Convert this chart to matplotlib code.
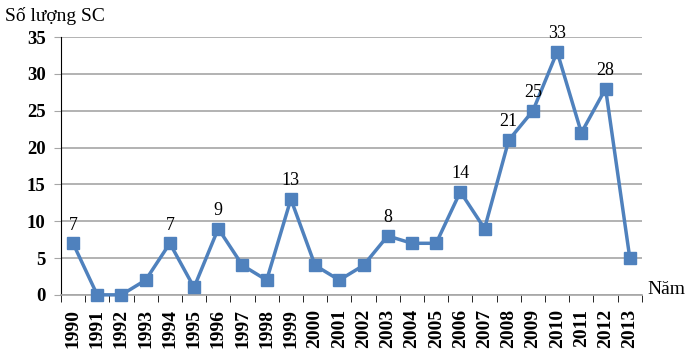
import matplotlib
matplotlib.use("Agg")
import matplotlib.pyplot as plt
import numpy as np

years = ["1990", "1991", "1992", "1993", "1994", "1995", "1996", "1997", "1998", "1999",
         "2000", "2001", "2002", "2003", "2004", "2005", "2006", "2007", "2008", "2009",
         "2010", "2011", "2012", "2013"]
counts = [7, 0, 0, 2, 7, 1, 9, 4, 2, 13, 4, 2, 4, 8, 7, 7, 14, 9, 21, 25, 33, 22, 28, 5]
labeled_years = ["1990", "1994", "1996", "1999", "2003", "2006", "2008", "2009", "2010", "2012"]
yticks = [0, 5, 10, 15, 20, 25, 30, 35]

plt.rcParams['font.family'] = ['Liberation Serif', 'DejaVu Serif']

fig = plt.figure(figsize=(7, 3.6), dpi=100)
ax = fig.add_axes([0.087, 0.181, 0.83, 0.716])

x = np.arange(len(years))
color = "#4F81BD"
ax.plot(x, counts, color=color, linewidth=2.5, marker="s", markersize=9,
        markerfacecolor=color, markeredgecolor=color, zorder=3, clip_on=False)

for i, (yr, v) in enumerate(zip(years, counts)):
    if yr in labeled_years:
        ax.annotate(str(v), (i, v), xytext=(0, 7), textcoords="offset points",
                    ha="center", va="bottom", fontsize=13, color="black")

ax.set_xlim(-0.5, len(years) - 0.5)
ax.set_ylim(0, 35)
ax.set_yticks(yticks)
ax.set_yticklabels([str(t) for t in yticks], fontsize=13.5, fontweight="bold")
ax.yaxis.grid(True, color="#A6A6A6", linewidth=1.2)
ax.set_axisbelow(True)

ax.set_xticks(x)
ax.set_xticklabels(years, rotation=90, fontsize=14, fontweight="bold")
ax.tick_params(axis="x", length=0, pad=10)
ax.set_xticks(np.arange(-0.5, len(years), 1), minor=True)
ax.tick_params(axis="x", which="minor", length=5, color="black", direction="out")
ax.tick_params(axis="y", length=5, color="#A6A6A6", pad=6)

for s in ["top", "right"]:
    ax.spines[s].set_visible(False)
ax.spines["left"].set_color("black")
ax.spines["bottom"].set_color("#A6A6A6")
ax.spines["bottom"].set_linewidth(1.2)

fig.text(0.007, 0.955, "Số lượng SC", fontsize=14, ha="left", va="center")
fig.text(0.925, 0.195, "Năm", fontsize=14, ha="left", va="center")

fig.savefig("out.png", dpi=100)
